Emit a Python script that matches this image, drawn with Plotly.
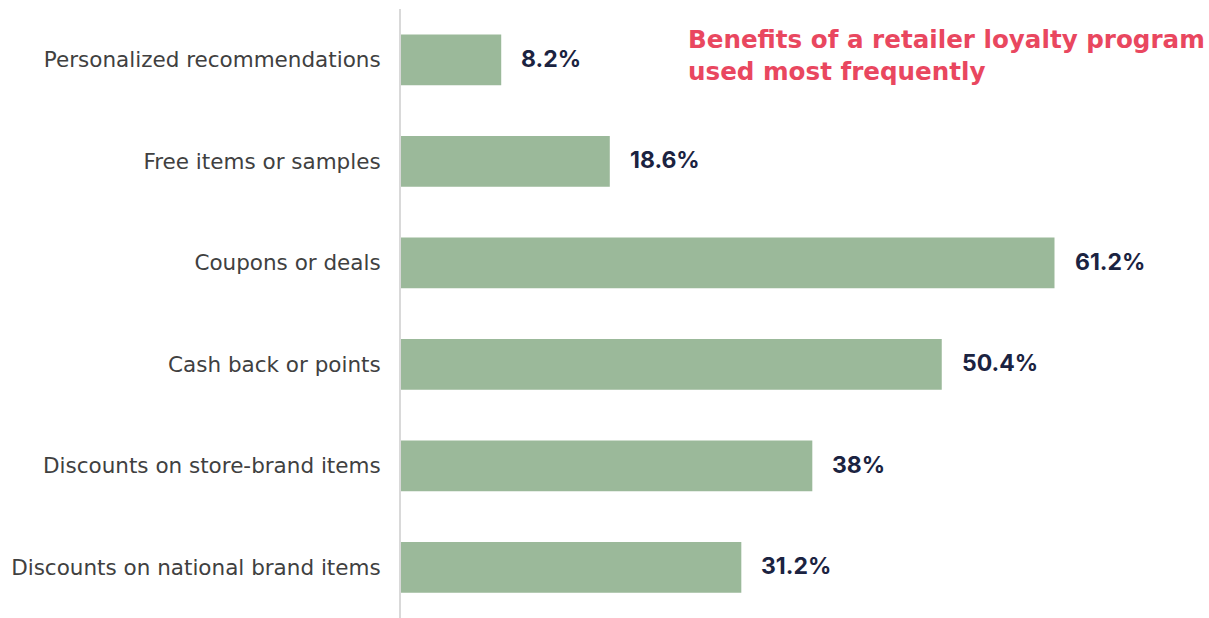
import plotly.graph_objects as go

categories = [
    "Personalized recommendations",
    "Free items or samples",
    "Coupons or deals",
    "Cash back or points",
    "Discounts on store-brand items",
    "Discounts on national brand items",
]
values = [8.2, 18.6, 61.2, 50.4, 38, 31.2]
value_labels = ["8.2%", "18.6%", "61.2%", "50.4%", "38%", "31.2%"]
title_text = "Benefits of a retailer loyalty program<br>used most frequently"

FONT = "Inter, Lato, sans-serif"
WIDE = "DejaVu Sans, Verdana, sans-serif"
x_min = -1.4
x_max = 76.0

fig = go.Figure()
fig.add_trace(go.Bar(
    y=categories,
    x=[v - x_min for v in values],
    base=x_min,
    orientation="h",
    marker=dict(color="#9BB99A", line=dict(width=0)),
    width=0.5,
    hoverinfo="skip",
))

for c, v, t in zip(categories, values, value_labels):
    fig.add_annotation(
        x=v, y=c, xref="x", yref="y", text=f"<b>{t}</b>",
        showarrow=False, xanchor="left", xshift=18, yshift=1,
        font=dict(family=FONT, size=23, color="#1B2341"),
    )

fig.add_annotation(
    x=(686 - 401) / (1209 - 401), y=1.0, xref="paper", yref="paper",
    text=f"<b>{title_text}</b>", yshift=-14,
    showarrow=False, xanchor="left", yanchor="top", align="left",
    font=dict(family=WIDE, size=24.6, color="#E9475F"),
)

fig.update_layout(
    width=1209, height=618,
    margin=dict(l=401, r=0, t=9, b=0),
    paper_bgcolor="white", plot_bgcolor="white",
    showlegend=False,
    font=dict(family=FONT),
    xaxis=dict(range=[x_min, x_max], visible=False, fixedrange=True),
    yaxis=dict(
        categoryorder="array", categoryarray=categories[::-1],
        showline=True, linecolor="#D9D9D9", linewidth=2,
        showgrid=False, zeroline=False, ticks="",
        ticklabelstandoff=14,
        tickfont=dict(family=WIDE, size=21.5, color="#404040"),
    ),
)

fig.write_html("out.html")
